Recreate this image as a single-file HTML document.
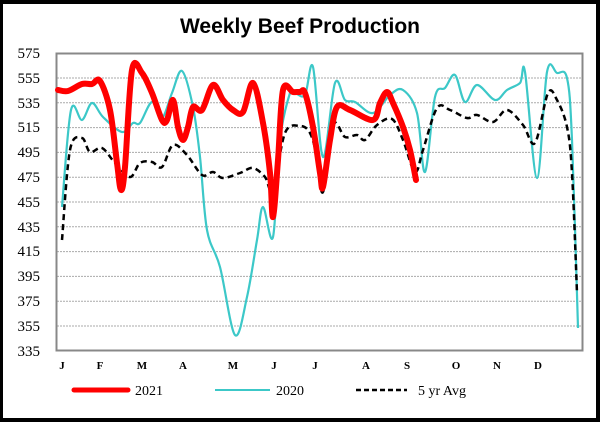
<!DOCTYPE html>
<html><head><meta charset="utf-8"><style>
html,body{margin:0;padding:0;background:#000}
#w{position:relative;width:600px;height:422px;overflow:hidden;background:#000}
svg{position:absolute;left:0;top:0}
</style></head><body><div id="w">
<svg width="600" height="422" viewBox="0 0 600 422" xmlns="http://www.w3.org/2000/svg">
<rect x="3" y="4" width="593" height="414" fill="#fff"/>
<text x="300" y="33" text-anchor="middle" font-family="Liberation Sans, sans-serif" font-weight="bold" font-size="21" fill="#000">Weekly Beef Production</text>
<g stroke="#aaa" stroke-width="1" stroke-dasharray="2,1">
<line x1="57" x2="582" y1="78" y2="78"/><line x1="57" x2="582" y1="102.8" y2="102.8"/><line x1="57" x2="582" y1="127.6" y2="127.6"/><line x1="57" x2="582" y1="152.4" y2="152.4"/><line x1="57" x2="582" y1="177.2" y2="177.2"/><line x1="57" x2="582" y1="202" y2="202"/><line x1="57" x2="582" y1="226.8" y2="226.8"/><line x1="57" x2="582" y1="251.6" y2="251.6"/><line x1="57" x2="582" y1="276.4" y2="276.4"/><line x1="57" x2="582" y1="301.2" y2="301.2"/><line x1="57" x2="582" y1="326" y2="326"/>
</g>
<rect x="56.5" y="53.5" width="526" height="297" fill="none" stroke="#888" stroke-width="2"/>
<g font-family="Liberation Serif, serif" font-size="15" fill="#000" text-anchor="end">
<text x="40" y="58">575</text><text x="40" y="83">555</text><text x="40" y="108">535</text><text x="40" y="132">515</text><text x="40" y="157">495</text><text x="40" y="182">475</text><text x="40" y="207">455</text><text x="40" y="232">435</text><text x="40" y="256">415</text><text x="40" y="281">395</text><text x="40" y="306">375</text><text x="40" y="331">355</text><text x="40" y="356">335</text>
</g>
<g font-family="Liberation Serif, serif" font-size="11" font-weight="bold" fill="#000" text-anchor="middle">
<text x="62" y="369">J</text><text x="100" y="369">F</text><text x="142" y="369">M</text><text x="183" y="369">A</text><text x="233" y="369">M</text><text x="274" y="369">J</text><text x="315" y="369">J</text><text x="366" y="369">A</text><text x="407" y="369">S</text><text x="456" y="369">O</text><text x="497" y="369">N</text><text x="538" y="369">D</text>
</g>
<path id="cy" fill="none" stroke="#3cc8c8" stroke-width="2.2" stroke-linejoin="round"/>
<path id="av" fill="none" stroke="#000" stroke-width="2.5" stroke-dasharray="6,4"/>
<path id="rd" fill="none" stroke="#ff0000" stroke-width="6" stroke-linejoin="round" stroke-linecap="round"/>
<line x1="74" x2="128" y1="390" y2="390" stroke="#ff0000" stroke-width="5" stroke-linecap="round"/>
<line x1="215" x2="270" y1="390" y2="390" stroke="#3cc8c8" stroke-width="2"/>
<line x1="356" x2="407" y1="390" y2="390" stroke="#000" stroke-width="2.5" stroke-dasharray="5,3"/>
<g font-family="Liberation Serif, serif" font-size="14" fill="#000">
<text x="135" y="395">2021</text><text x="276" y="395">2020</text><text x="418" y="395">5 yr Avg</text>
</g>
</svg>
<script>
function sm(p){var d="M"+p[0][0]+","+p[0][1];for(var i=0;i<p.length-1;i++){var a=p[i-1]||p[i],b=p[i],c=p[i+1],e=p[i+2]||c;var t=6;d+=" C"+(b[0]+(c[0]-a[0])/t)+","+(b[1]+(c[1]-a[1])/t)+" "+(c[0]-(e[0]-b[0])/t)+","+(c[1]-(e[1]-b[1])/t)+" "+c[0]+","+c[1];}return d;}
var R=[[58,90],[68,91],[82,84],[92,84],[100,81],[110,110],[117,163],[121,190],[125,167],[132,70],[142,73],[152,93],[162,120],[167,120],[173,100],[178,127],[183,140],[188,127],[193,107],[202,110],[213,85],[223,100],[233,110],[243,112],[253,83],[263,123],[270,173],[273,217],[278,160],[283,90],[293,92],[300,92],[305,93],[313,127],[320,173],[323,187],[330,140],[337,107],[350,110],[373,120],[380,103],[387,92],[393,103],[403,127],[410,150],[416,180]];
var C=[[62,207],[71,110],[82,120],[92,103],[103,117],[122,132],[133,123],[140,123],[152,102],[162,118],[172,93],[182,71],[193,107],[200,157],[207,230],[220,267],[235,335],[247,297],[257,240],[263,207],[273,237],[280,140],[290,93],[295,93],[305,95],[313,67],[323,157],[335,83],[345,100],[355,102],[373,113],[390,95],[403,90],[417,113],[425,172],[435,97],[445,88],[455,75],[465,102],[477,85],[495,100],[507,90],[520,83],[525,72],[537,178],[547,72],[557,73],[567,78],[572,140],[578,328]];
var A=[[62,240],[70,150],[82,138],[90,152],[102,148],[115,163],[130,177],[140,163],[152,162],[162,167],[173,145],[187,155],[202,175],[213,172],[223,178],[240,173],[253,168],[265,177],[273,190],[285,133],[300,126],[310,133],[317,157],[323,192],[333,125],[345,137],[357,135],[365,140],[377,125],[392,119],[403,140],[415,172],[423,150],[437,108],[450,110],[467,118],[477,115],[493,122],[507,110],[523,125],[535,143],[548,93],[557,100],[567,127],[572,173],[577,293]];
document.getElementById("rd").setAttribute("d",sm(R));
document.getElementById("cy").setAttribute("d",sm(C));
document.getElementById("av").setAttribute("d",sm(A));
</script>
</div></body></html>
